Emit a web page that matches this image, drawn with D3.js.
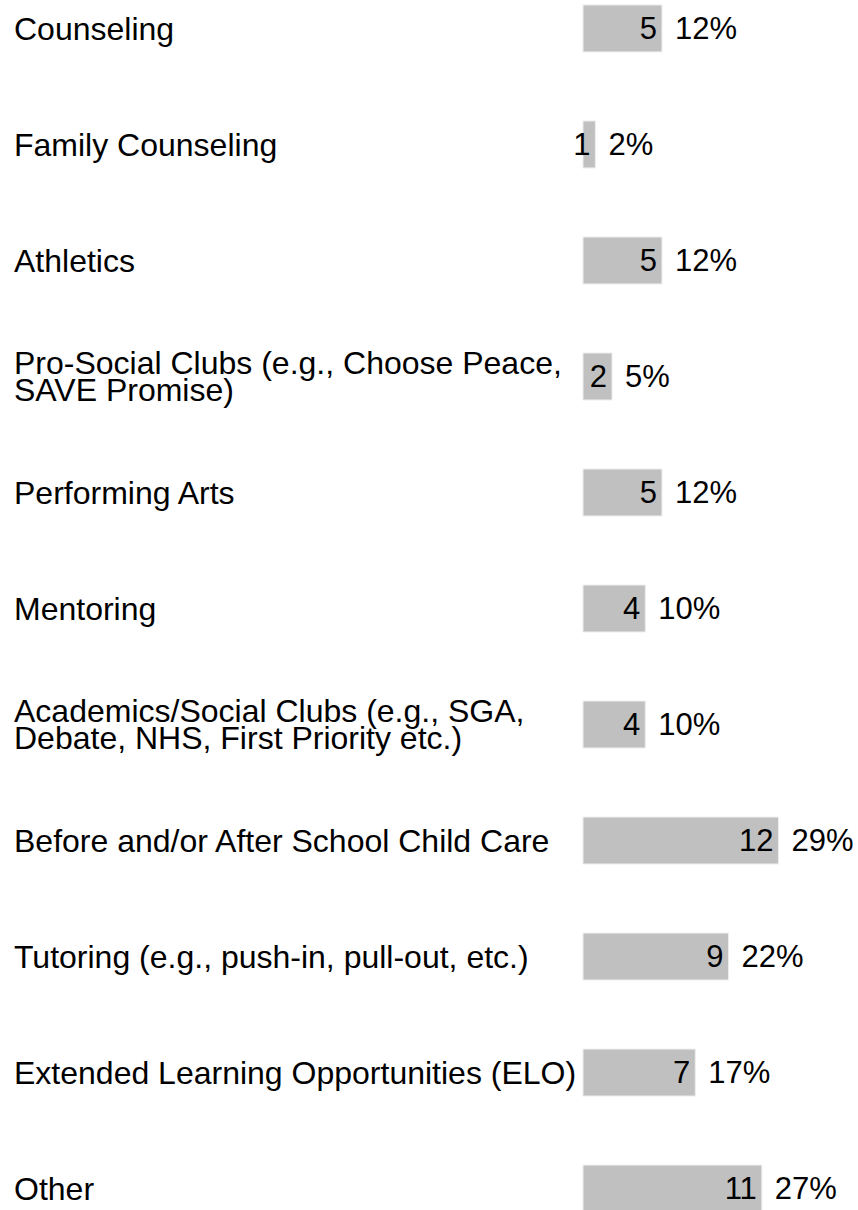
<!DOCTYPE html>
<html>
<head>
<meta charset="utf-8">
<script src="https://cdn.jsdelivr.net/npm/d3@7"></script>
<style>
  body { margin: 0; background: #fff; }
  text { font-family: "Liberation Sans", Arial, sans-serif; fill: #000; }
</style>
</head>
<body>
<div id="chart"></div>
<script>
const categories = [
  ["Counseling"],
  ["Family Counseling"],
  ["Athletics"],
  ["Pro-Social Clubs (e.g., Choose Peace,", "SAVE Promise)"],
  ["Performing Arts"],
  ["Mentoring"],
  ["Academics/Social Clubs (e.g., SGA,", "Debate, NHS, First Priority etc.)"],
  ["Before and/or After School Child Care"],
  ["Tutoring (e.g., push-in, pull-out, etc.)"],
  ["Extended Learning Opportunities (ELO)"],
  ["Other"]
];
const counts = [5, 1, 5, 2, 5, 4, 4, 12, 9, 7, 11];
const percents = ["12%", "2%", "12%", "5%", "12%", "10%", "10%", "29%", "22%", "17%", "27%"];

const width = 858;
const height = 1210;

const svg = d3.select("#chart")
    .append("svg")
    .attr("width", width)
    .attr("height", height);

const barX = 583;

const x = d3.scaleLinear()
    .domain([1, 12])
    .range([12.4, 195.5]);

const y = d3.scaleBand()
    .domain(d3.range(counts.length))
    .range([-29.5, 1246.5])
    .paddingInner(0.595)
    .paddingOuter(0.297);

const rows = svg.selectAll("g.row")
    .data(counts)
    .enter()
    .append("g")
    .attr("class", "row")
    .attr("transform", (d, i) => "translate(0," + y(i) + ")");

const bh = y.bandwidth();

rows.append("rect")
    .attr("x", barX)
    .attr("y", 0)
    .attr("width", d => x(d))
    .attr("height", bh)
    .attr("fill", "#c0c0c0")
    .attr("stroke", "#eeeeee")
    .attr("stroke-width", 1);

// count inside bar
rows.append("text")
    .attr("x", d => barX + x(d) - 5)
    .attr("y", bh / 2)
    .attr("dy", "0.35em")
    .attr("text-anchor", "end")
    .style("font-size", "31px")
    .text(d => d);

// percent after bar
rows.append("text")
    .attr("x", d => barX + x(d) + 13)
    .attr("y", bh / 2)
    .attr("dy", "0.35em")
    .style("font-size", "31px")
    .text((d, i) => percents[i]);

// category labels
rows.each(function(d, i) {
  const lines = categories[i];
  const lh = 27;
  const t = d3.select(this).append("text")
      .attr("x", 14)
      .attr("y", bh / 2 - (lines.length - 1) * lh / 2)
      .style("font-size", "32px");
  lines.forEach((l, k) => {
    t.append("tspan")
      .attr("x", 14)
      .attr("dy", k === 0 ? "0.35em" : lh)
      .text(l);
  });
});
</script>
</body>
</html>
